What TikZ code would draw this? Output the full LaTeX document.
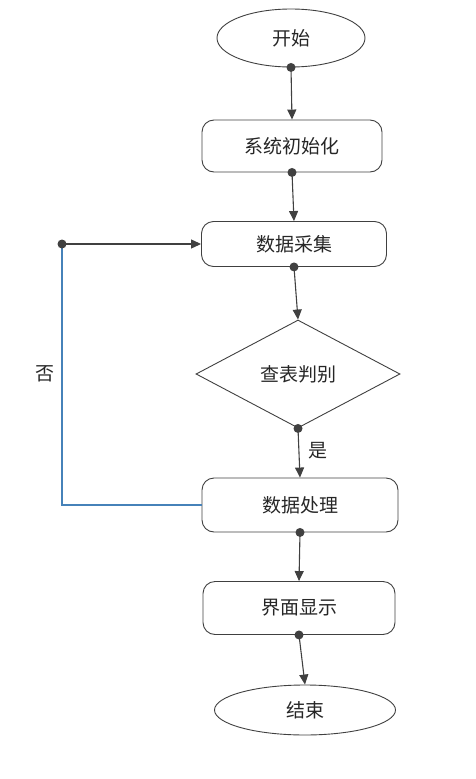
\documentclass[tikz,border=0pt]{standalone}
\usepackage{fontspec}
\setmainfont{Noto Sans CJK SC}
\usetikzlibrary{shapes.geometric,arrows.meta}
\definecolor{edgegray}{RGB}{64,64,64}
\definecolor{loopblue}{RGB}{70,130,185}

\begin{document}
\begin{tikzpicture}[x=1pt,y=-1pt,
  every node/.style={font=\fontsize{19pt}{22pt}\selectfont, text=black!85},
  term/.style={draw=edgegray, line width=0.9pt, ellipse, inner sep=0pt},
  box/.style={draw=edgegray, line width=0.9pt, rectangle, rounded corners=12pt, inner sep=0pt},
  judge/.style={draw=edgegray, line width=0.9pt, diamond, inner sep=0pt},
  flow/.style={draw=edgegray, line width=1.1pt, -{Triangle[length=10pt,width=9pt]}},
  joint/.style={fill=edgegray}]

\useasboundingbox (0,0) rectangle (476,779);

% nodes of the chart
\node[term, minimum width=148pt, minimum height=58pt] (start) at (291,38) {开始};
\node[box, minimum width=180pt, minimum height=52pt] (init) at (292,146) {系统初始化};
\node[box, minimum width=185pt, minimum height=45pt] (collect) at (294,244) {数据采集};
\node[judge, minimum width=204pt, minimum height=108pt] (lookup) at (298,374) {查表判别};
\node[box, minimum width=196pt, minimum height=54pt] (process) at (300,505) {数据处理};
\node[box, minimum width=192pt, minimum height=53pt] (show) at (299,608) {界面显示};
\node[term, minimum width=181pt, minimum height=50pt] (stop) at (305,710) {结束};

% main flow
\draw[flow] (start.south) -- (init.north);
\draw[flow] (init.south) -- (collect.north);
\draw[flow] (collect.south) -- (lookup.north);
\draw[flow] (lookup.south) -- (process.north) node[pos=0.45, right, xshift=6pt] (yes) {是};
\draw[flow] (process.south) -- (show.north);
\draw[flow] (show.south) -- (stop.north);

% loop back: no
\coordinate (turn) at (62,244);
\draw[loopblue, line width=1.1pt] (process.west) -| (turn);
\draw[flow] (turn) -- (collect.west);
\node (no) at (45,374) {否};

% dots at the tails
\foreach \p in {start.south, init.south, collect.south, lookup.south, process.south, show.south, turn}
  \fill[joint] (\p) circle (4.5pt);

\end{tikzpicture}
\end{document}
